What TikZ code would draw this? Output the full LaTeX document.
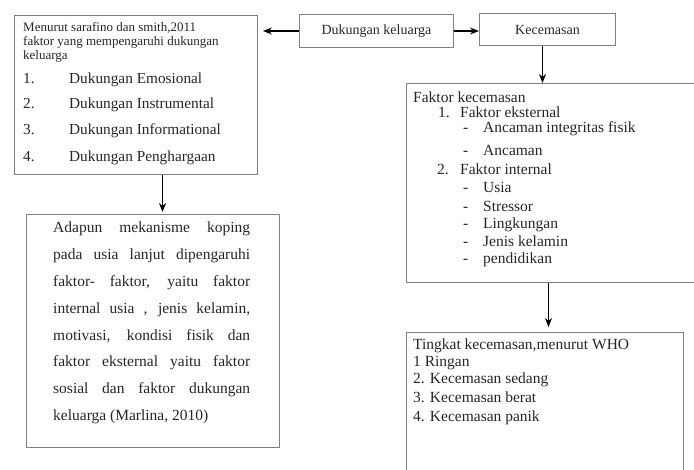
\documentclass[tikz,border=0pt]{standalone}
\usepackage{fontspec}
\setmainfont{Liberation Serif}
\usetikzlibrary{arrows.meta}

\begin{document}
\begin{tikzpicture}[x=1pt, y=-1pt,
  box/.style={draw=black!50, line width=1pt, inner sep=0pt, anchor=north west, text=black!85},
  txt/.style={anchor=base west, inner sep=0pt, text=black!85, font=\fontsize{15.5}{18}\selectfont},
  arr/.style={-{Stealth[length=9pt,width=7pt]}, line width=1.2pt}]
\clip (0,0) rectangle (694,470);

% boxes
\node[box, minimum width=243pt, minimum height=159pt] (sumber) at (14,15) {};
\node[box, minimum width=154pt, minimum height=33pt, font=\fontsize{14}{16}\selectfont] (dukungan) at (299,14) {Dukungan keluarga};
\node[box, minimum width=136pt, minimum height=32pt, font=\fontsize{14}{16}\selectfont] (cemas) at (479,13) {Kecemasan};
\node[box, minimum width=320pt, minimum height=199pt] (faktor) at (406,83) {};
\node[box, minimum width=277pt, minimum height=160pt] (tingkat) at (406,332) {};
\node[box, minimum width=253pt, minimum height=233pt] (koping) at (26,214) {};

% left top box
\node[txt, font=\fontsize{13}{14}\selectfont] (s1) at (23,32) {Menurut sarafino dan smith,2011};
\node[txt, font=\fontsize{13}{14}\selectfont] (s2) at (23,46) {faktor yang mempengaruhi dukungan};
\node[txt, font=\fontsize{13}{14}\selectfont] (s3) at (23,60) {keluarga};
\foreach \n/\t/\y in {1/Emosional/84, 2/Instrumental/109, 3/Informational/135, 4/Penghargaan/162} {
  \node[txt, font=\fontsize{15.3}{18}\selectfont] (no\n) at (23,\y) {\n.};
  \node[txt, font=\fontsize{15.3}{18}\selectfont] (dk\n) at (69,\y) {Dukungan \t};
}

% left bottom box
\node[txt, text width=197pt, align=justify, font=\fontsize{15.5}{26.8}\selectfont] (teks) at (53,233)
  {Adapun mekanisme koping\linebreak
   pada usia lanjut dipengaruhi\linebreak
   faktor- faktor, yaitu faktor\linebreak
   internal usia , jenis kelamin,\linebreak
   motivasi, kondisi fisik dan\linebreak
   faktor eksternal yaitu faktor\linebreak
   sosial dan faktor dukungan\linebreak
   keluarga (Marlina, 2010)};

% faktor kecemasan
\node[txt] (f0) at (413,103) {Faktor kecemasan};
\node[txt] (f1) at (438,118) {1.};
\node[txt] (f1t) at (460,118) {Faktor eksternal};
\node[txt] (f2) at (437,175) {2.};
\node[txt] (f2t) at (460,175) {Faktor internal};
\foreach \y/\t in {133/Ancaman integritas fisik, 156/Ancaman, 193/Usia, 212/Stressor, 229/Lingkungan, 247/Jenis kelamin, 264/pendidikan} {
  \node[txt] (dash\y) at (463,\y) {-};
  \node[txt] (item\y) at (483,\y) {\t};
}

% tingkat kecemasan
\foreach \y/\t in {350/{Tingkat kecemasan,menurut WHO}, 367/1 Ringan, 384/2. Kecemasan sedang, 403/3. Kecemasan berat, 422/4. Kecemasan panik} {
  \node[txt] (t\y) at (413,\y) {\t};
}

% arrows
\draw[arr, shorten >=5pt] (dukungan.west) -- (dukungan.west -| sumber.east);
\draw[arr] (dukungan.east) -- (dukungan.east -| cemas.west);
\draw[arr] ([xshift=-5pt]cemas.south) -- ([xshift=-5pt]cemas.south |- faktor.north);
\draw[arr, shorten >=5pt] ([xshift=3.5pt]tingkat.north |- faktor.south) -- ([xshift=3.5pt]tingkat.north);
\draw[arr, shorten >=2pt] ([xshift=26.5pt]sumber.south) -- ([xshift=26.5pt]sumber.south |- koping.north);
\end{tikzpicture}
\end{document}
